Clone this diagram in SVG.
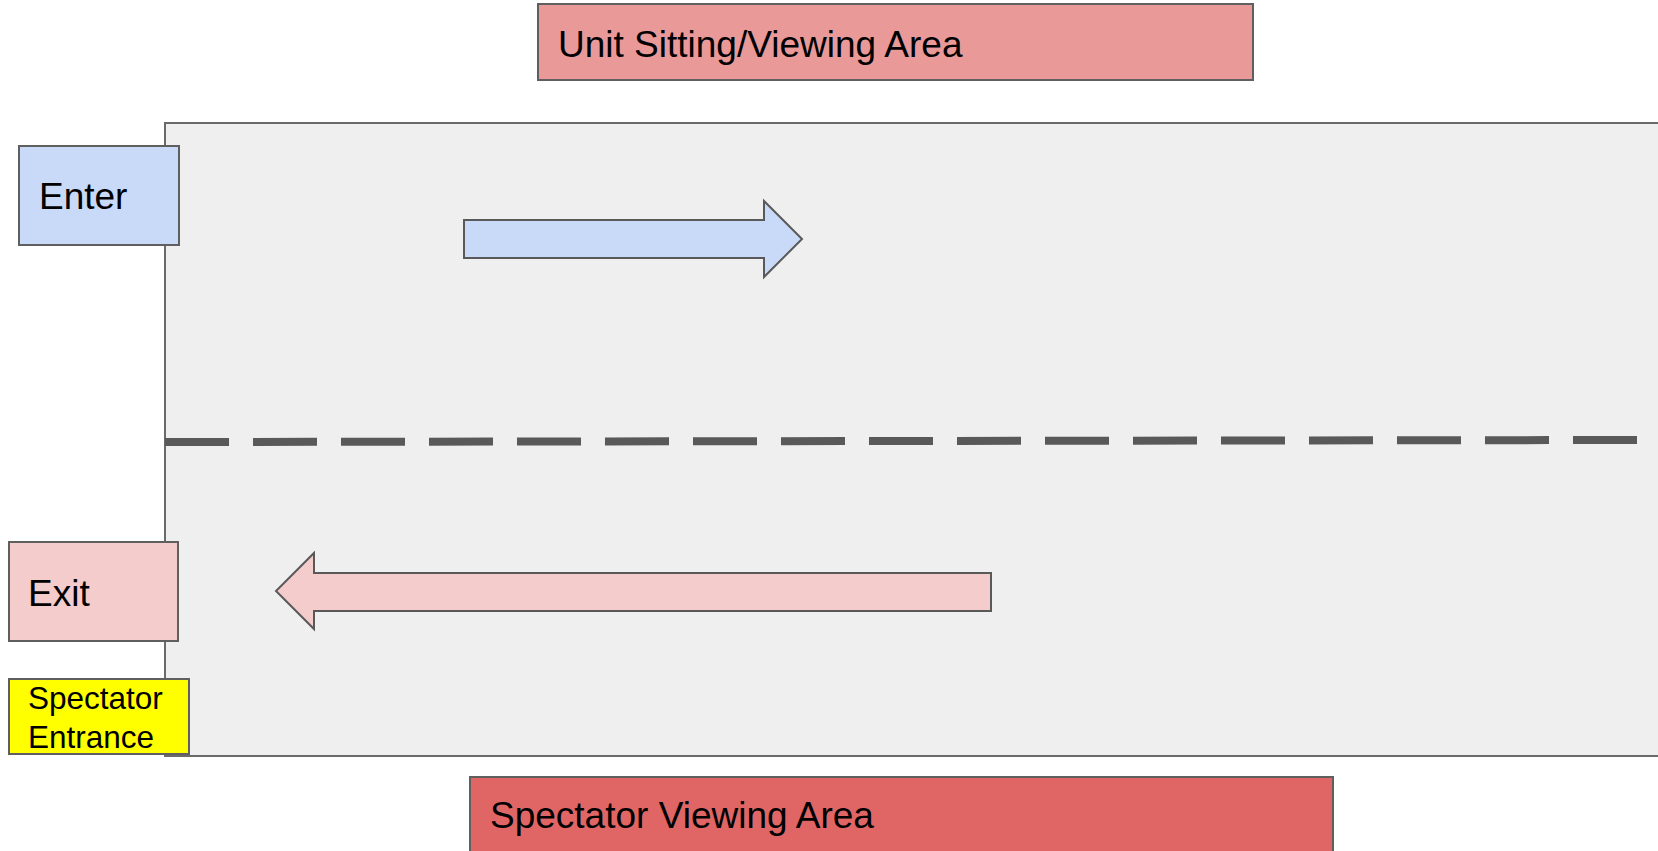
<svg xmlns="http://www.w3.org/2000/svg" width="1658" height="851" viewBox="0 0 1658 851">
<style>
.box{stroke:#5f5f5f;stroke-width:2}
.lbl{font-family:"Liberation Sans",Arial,sans-serif;font-size:37px;fill:#000}
.sm{font-family:"Liberation Sans",Arial,sans-serif;font-size:31.5px;fill:#000}
</style>
<rect width="1658" height="851" fill="#ffffff"/>
<g id="field">
<rect x="165" y="123" width="1510" height="633" fill="#efefef" stroke="#6a6a6a" stroke-width="2"/>
</g>
<g id="connectors">
<line x1="165" y1="442" x2="1637" y2="440" stroke="#595959" stroke-width="8" stroke-dasharray="64 24"/>
<polygon id="enter-arrow" points="464,220 764,220 764,201 802,239 764,277 764,258 464,258" fill="#c9daf8" stroke="#595959" stroke-width="2"/>
<polygon id="exit-arrow" points="991,573 314,573 314,553 276,591 314,629 314,611 991,611" fill="#f4cccc" stroke="#595959" stroke-width="2"/>
</g>
<g id="unit-area">
<rect class="box" x="538" y="4" width="715" height="76" fill="#ea9999"/>
<text class="lbl" x="558" y="57">Unit Sitting/Viewing Area</text>
</g>
<g id="enter">
<rect class="box" x="19" y="146" width="160" height="99" fill="#c9daf8"/>
<text class="lbl" x="39" y="209">Enter</text>
</g>
<g id="exit">
<rect class="box" x="9" y="542" width="169" height="99" fill="#f4cccc"/>
<text class="lbl" x="28" y="606">Exit</text>
</g>
<g id="spectator-entrance">
<rect class="box" x="9" y="679" width="180" height="75" fill="#ffff00"/>
<text class="sm" x="28" y="709">Spectator</text>
<text class="sm" x="28" y="748">Entrance</text>
</g>
<g id="spectator-area">
<rect class="box" x="470" y="777" width="863" height="90" fill="#e06666"/>
<text class="lbl" x="490" y="828">Spectator Viewing Area</text>
</g>
</svg>
